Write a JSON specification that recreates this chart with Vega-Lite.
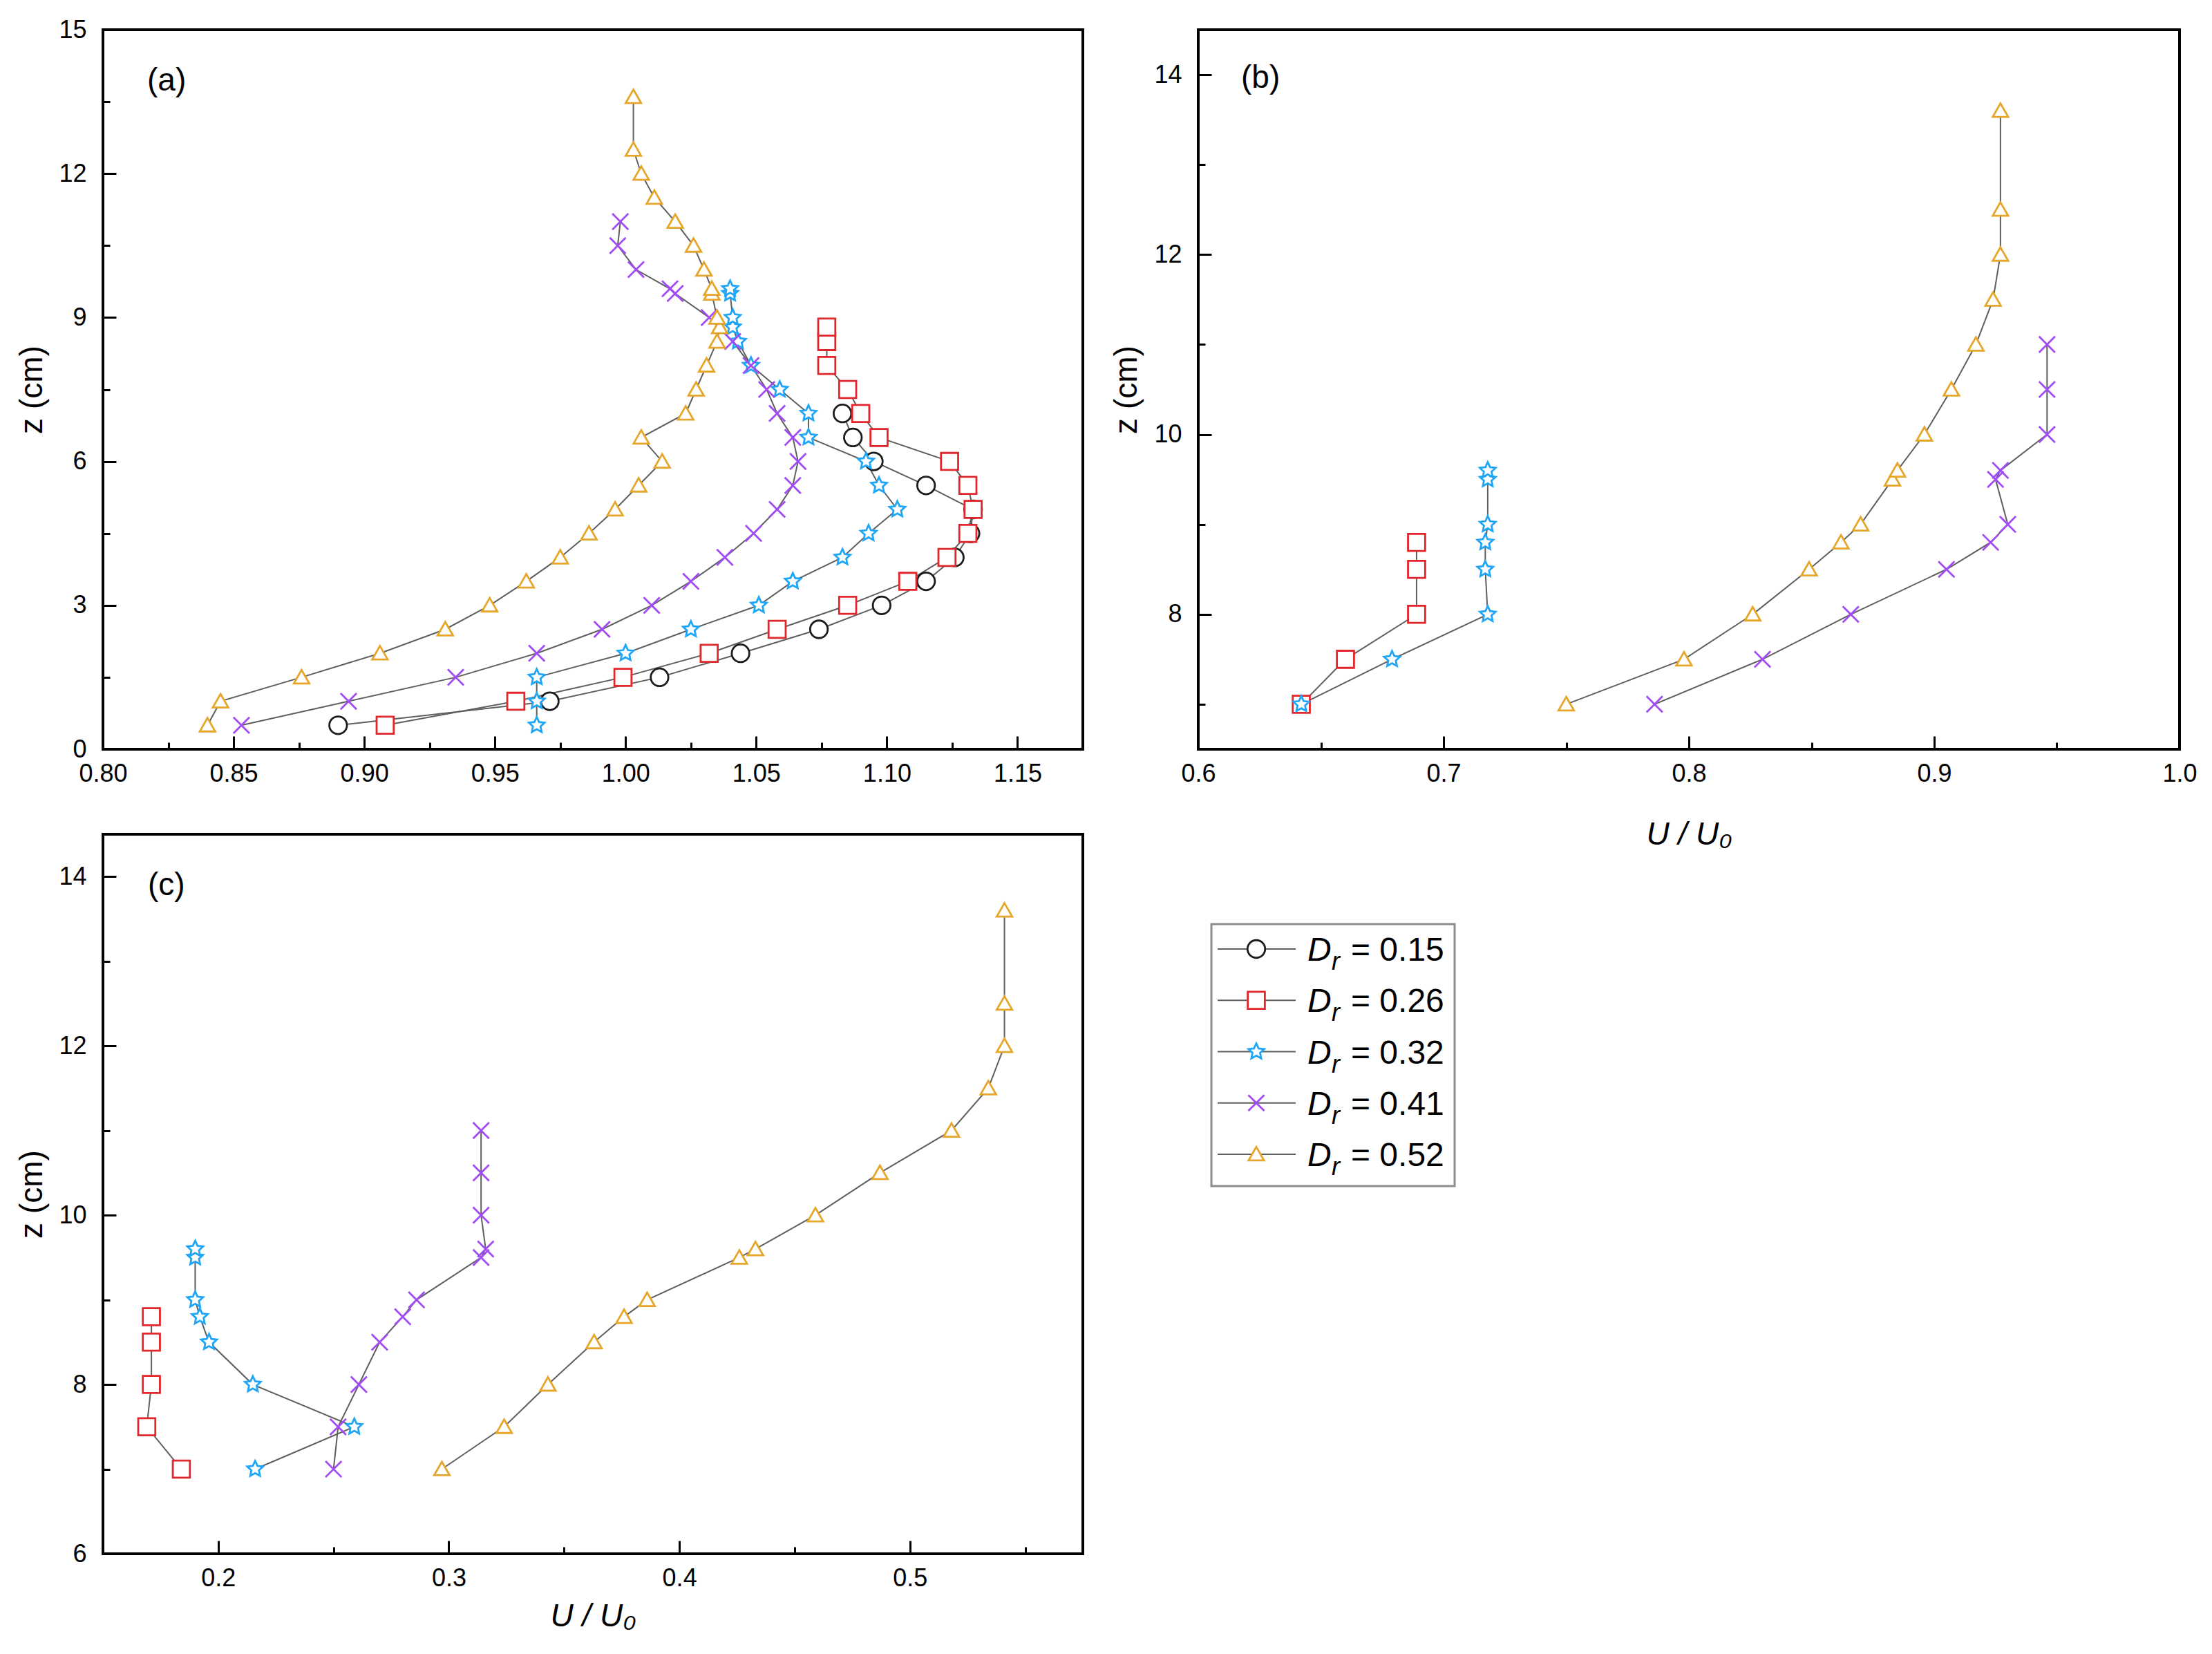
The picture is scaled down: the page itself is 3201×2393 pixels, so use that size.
{
  "$schema": "https://vega.github.io/schema/vega-lite/v6.json",
  "description": "Velocity profiles z vs U/U0 for five Dr values, three panels",
  "autosize": "none",
  "padding": {"left": 149, "top": 43, "right": 3052, "bottom": 2350},
  "background": "white",
  "config": {
    "font": "Liberation Sans",
    "view": {"stroke": "black", "strokeWidth": 4},
    "axis": {
      "domain": false,
      "grid": false,
      "labelFont": "Liberation Sans",
      "labelFontSize": 36,
      "labelColor": "black",
      "labelFlush": false,
      "labelOverlap": false,
      "tickColor": "black",
      "tickWidth": 3,
      "titleFont": "Liberation Sans, DejaVu Sans",
      "titleFontSize": 46,
      "titleFontWeight": "normal",
      "titleColor": "black"
    },
    "title": {
      "font": "Liberation Sans",
      "fontSize": 46,
      "fontWeight": "normal",
      "color": "black",
      "anchor": "start",
      "frame": "group",
      "baseline": "middle",
      "offset": 0
    }
  },
  "datasets": {
    "a": [
      {"Dr": "0.15", "U": 0.890, "z": 0.5},
      {"Dr": "0.15", "U": 0.971, "z": 1.0},
      {"Dr": "0.15", "U": 1.013, "z": 1.5},
      {"Dr": "0.15", "U": 1.044, "z": 2.0},
      {"Dr": "0.15", "U": 1.074, "z": 2.5},
      {"Dr": "0.15", "U": 1.098, "z": 3.0},
      {"Dr": "0.15", "U": 1.115, "z": 3.5},
      {"Dr": "0.15", "U": 1.126, "z": 4.0},
      {"Dr": "0.15", "U": 1.132, "z": 4.5},
      {"Dr": "0.15", "U": 1.133, "z": 5.0},
      {"Dr": "0.15", "U": 1.115, "z": 5.5},
      {"Dr": "0.15", "U": 1.095, "z": 6.0},
      {"Dr": "0.15", "U": 1.087, "z": 6.5},
      {"Dr": "0.15", "U": 1.083, "z": 7.0},
      {"Dr": "0.26", "U": 0.908, "z": 0.5},
      {"Dr": "0.26", "U": 0.958, "z": 1.0},
      {"Dr": "0.26", "U": 0.999, "z": 1.5},
      {"Dr": "0.26", "U": 1.032, "z": 2.0},
      {"Dr": "0.26", "U": 1.058, "z": 2.5},
      {"Dr": "0.26", "U": 1.085, "z": 3.0},
      {"Dr": "0.26", "U": 1.108, "z": 3.5},
      {"Dr": "0.26", "U": 1.123, "z": 4.0},
      {"Dr": "0.26", "U": 1.131, "z": 4.5},
      {"Dr": "0.26", "U": 1.133, "z": 5.0},
      {"Dr": "0.26", "U": 1.131, "z": 5.5},
      {"Dr": "0.26", "U": 1.124, "z": 6.0},
      {"Dr": "0.26", "U": 1.097, "z": 6.5},
      {"Dr": "0.26", "U": 1.090, "z": 7.0},
      {"Dr": "0.26", "U": 1.085, "z": 7.5},
      {"Dr": "0.26", "U": 1.077, "z": 8.0},
      {"Dr": "0.26", "U": 1.077, "z": 8.5},
      {"Dr": "0.26", "U": 1.077, "z": 8.8},
      {"Dr": "0.32", "U": 0.966, "z": 0.5},
      {"Dr": "0.32", "U": 0.966, "z": 1.0},
      {"Dr": "0.32", "U": 0.966, "z": 1.5},
      {"Dr": "0.32", "U": 1.000, "z": 2.0},
      {"Dr": "0.32", "U": 1.025, "z": 2.5},
      {"Dr": "0.32", "U": 1.051, "z": 3.0},
      {"Dr": "0.32", "U": 1.064, "z": 3.5},
      {"Dr": "0.32", "U": 1.083, "z": 4.0},
      {"Dr": "0.32", "U": 1.093, "z": 4.5},
      {"Dr": "0.32", "U": 1.104, "z": 5.0},
      {"Dr": "0.32", "U": 1.097, "z": 5.5},
      {"Dr": "0.32", "U": 1.092, "z": 6.0},
      {"Dr": "0.32", "U": 1.070, "z": 6.5},
      {"Dr": "0.32", "U": 1.070, "z": 7.0},
      {"Dr": "0.32", "U": 1.059, "z": 7.5},
      {"Dr": "0.32", "U": 1.048, "z": 8.0},
      {"Dr": "0.32", "U": 1.043, "z": 8.5},
      {"Dr": "0.32", "U": 1.041, "z": 8.8},
      {"Dr": "0.32", "U": 1.041, "z": 9.0},
      {"Dr": "0.32", "U": 1.040, "z": 9.5},
      {"Dr": "0.32", "U": 1.040, "z": 9.6},
      {"Dr": "0.41", "U": 0.853, "z": 0.5},
      {"Dr": "0.41", "U": 0.894, "z": 1.0},
      {"Dr": "0.41", "U": 0.935, "z": 1.5},
      {"Dr": "0.41", "U": 0.966, "z": 2.0},
      {"Dr": "0.41", "U": 0.991, "z": 2.5},
      {"Dr": "0.41", "U": 1.010, "z": 3.0},
      {"Dr": "0.41", "U": 1.025, "z": 3.5},
      {"Dr": "0.41", "U": 1.038, "z": 4.0},
      {"Dr": "0.41", "U": 1.049, "z": 4.5},
      {"Dr": "0.41", "U": 1.058, "z": 5.0},
      {"Dr": "0.41", "U": 1.064, "z": 5.5},
      {"Dr": "0.41", "U": 1.066, "z": 6.0},
      {"Dr": "0.41", "U": 1.064, "z": 6.5},
      {"Dr": "0.41", "U": 1.058, "z": 7.0},
      {"Dr": "0.41", "U": 1.054, "z": 7.5},
      {"Dr": "0.41", "U": 1.048, "z": 8.0},
      {"Dr": "0.41", "U": 1.041, "z": 8.5},
      {"Dr": "0.41", "U": 1.032, "z": 9.0},
      {"Dr": "0.41", "U": 1.019, "z": 9.5},
      {"Dr": "0.41", "U": 1.017, "z": 9.6},
      {"Dr": "0.41", "U": 1.004, "z": 10.0},
      {"Dr": "0.41", "U": 0.997, "z": 10.5},
      {"Dr": "0.41", "U": 0.998, "z": 11.0},
      {"Dr": "0.52", "U": 0.840, "z": 0.5},
      {"Dr": "0.52", "U": 0.845, "z": 1.0},
      {"Dr": "0.52", "U": 0.876, "z": 1.5},
      {"Dr": "0.52", "U": 0.906, "z": 2.0},
      {"Dr": "0.52", "U": 0.931, "z": 2.5},
      {"Dr": "0.52", "U": 0.948, "z": 3.0},
      {"Dr": "0.52", "U": 0.962, "z": 3.5},
      {"Dr": "0.52", "U": 0.975, "z": 4.0},
      {"Dr": "0.52", "U": 0.986, "z": 4.5},
      {"Dr": "0.52", "U": 0.996, "z": 5.0},
      {"Dr": "0.52", "U": 1.005, "z": 5.5},
      {"Dr": "0.52", "U": 1.014, "z": 6.0},
      {"Dr": "0.52", "U": 1.006, "z": 6.5},
      {"Dr": "0.52", "U": 1.023, "z": 7.0},
      {"Dr": "0.52", "U": 1.027, "z": 7.5},
      {"Dr": "0.52", "U": 1.031, "z": 8.0},
      {"Dr": "0.52", "U": 1.035, "z": 8.5},
      {"Dr": "0.52", "U": 1.036, "z": 8.8},
      {"Dr": "0.52", "U": 1.035, "z": 9.0},
      {"Dr": "0.52", "U": 1.033, "z": 9.5},
      {"Dr": "0.52", "U": 1.033, "z": 9.6},
      {"Dr": "0.52", "U": 1.030, "z": 10.0},
      {"Dr": "0.52", "U": 1.026, "z": 10.5},
      {"Dr": "0.52", "U": 1.019, "z": 11.0},
      {"Dr": "0.52", "U": 1.011, "z": 11.5},
      {"Dr": "0.52", "U": 1.006, "z": 12.0},
      {"Dr": "0.52", "U": 1.003, "z": 12.5},
      {"Dr": "0.52", "U": 1.003, "z": 13.6}
    ],
    "b": [
      {"Dr": "0.26", "U": 0.642, "z": 7.0},
      {"Dr": "0.26", "U": 0.660, "z": 7.5},
      {"Dr": "0.26", "U": 0.689, "z": 8.0},
      {"Dr": "0.26", "U": 0.689, "z": 8.5},
      {"Dr": "0.26", "U": 0.689, "z": 8.8},
      {"Dr": "0.32", "U": 0.642, "z": 7.0},
      {"Dr": "0.32", "U": 0.679, "z": 7.5},
      {"Dr": "0.32", "U": 0.718, "z": 8.0},
      {"Dr": "0.32", "U": 0.717, "z": 8.5},
      {"Dr": "0.32", "U": 0.717, "z": 8.8},
      {"Dr": "0.32", "U": 0.718, "z": 9.0},
      {"Dr": "0.32", "U": 0.718, "z": 9.5},
      {"Dr": "0.32", "U": 0.718, "z": 9.6},
      {"Dr": "0.41", "U": 0.786, "z": 7.0},
      {"Dr": "0.41", "U": 0.830, "z": 7.5},
      {"Dr": "0.41", "U": 0.866, "z": 8.0},
      {"Dr": "0.41", "U": 0.905, "z": 8.5},
      {"Dr": "0.41", "U": 0.923, "z": 8.8},
      {"Dr": "0.41", "U": 0.930, "z": 9.0},
      {"Dr": "0.41", "U": 0.925, "z": 9.5},
      {"Dr": "0.41", "U": 0.927, "z": 9.6},
      {"Dr": "0.41", "U": 0.946, "z": 10.0},
      {"Dr": "0.41", "U": 0.946, "z": 10.5},
      {"Dr": "0.41", "U": 0.946, "z": 11.0},
      {"Dr": "0.52", "U": 0.750, "z": 7.0},
      {"Dr": "0.52", "U": 0.798, "z": 7.5},
      {"Dr": "0.52", "U": 0.826, "z": 8.0},
      {"Dr": "0.52", "U": 0.849, "z": 8.5},
      {"Dr": "0.52", "U": 0.862, "z": 8.8},
      {"Dr": "0.52", "U": 0.870, "z": 9.0},
      {"Dr": "0.52", "U": 0.883, "z": 9.5},
      {"Dr": "0.52", "U": 0.885, "z": 9.6},
      {"Dr": "0.52", "U": 0.896, "z": 10.0},
      {"Dr": "0.52", "U": 0.907, "z": 10.5},
      {"Dr": "0.52", "U": 0.917, "z": 11.0},
      {"Dr": "0.52", "U": 0.924, "z": 11.5},
      {"Dr": "0.52", "U": 0.927, "z": 12.0},
      {"Dr": "0.52", "U": 0.927, "z": 12.5},
      {"Dr": "0.52", "U": 0.927, "z": 13.6}
    ],
    "c": [
      {"Dr": "0.26", "U": 0.184, "z": 7.0},
      {"Dr": "0.26", "U": 0.169, "z": 7.5},
      {"Dr": "0.26", "U": 0.171, "z": 8.0},
      {"Dr": "0.26", "U": 0.171, "z": 8.5},
      {"Dr": "0.26", "U": 0.171, "z": 8.8},
      {"Dr": "0.32", "U": 0.216, "z": 7.0},
      {"Dr": "0.32", "U": 0.259, "z": 7.5},
      {"Dr": "0.32", "U": 0.215, "z": 8.0},
      {"Dr": "0.32", "U": 0.196, "z": 8.5},
      {"Dr": "0.32", "U": 0.192, "z": 8.8},
      {"Dr": "0.32", "U": 0.190, "z": 9.0},
      {"Dr": "0.32", "U": 0.190, "z": 9.5},
      {"Dr": "0.32", "U": 0.190, "z": 9.6},
      {"Dr": "0.41", "U": 0.250, "z": 7.0},
      {"Dr": "0.41", "U": 0.252, "z": 7.5},
      {"Dr": "0.41", "U": 0.261, "z": 8.0},
      {"Dr": "0.41", "U": 0.270, "z": 8.5},
      {"Dr": "0.41", "U": 0.280, "z": 8.8},
      {"Dr": "0.41", "U": 0.286, "z": 9.0},
      {"Dr": "0.41", "U": 0.314, "z": 9.5},
      {"Dr": "0.41", "U": 0.316, "z": 9.6},
      {"Dr": "0.41", "U": 0.314, "z": 10.0},
      {"Dr": "0.41", "U": 0.314, "z": 10.5},
      {"Dr": "0.41", "U": 0.314, "z": 11.0},
      {"Dr": "0.52", "U": 0.297, "z": 7.0},
      {"Dr": "0.52", "U": 0.324, "z": 7.5},
      {"Dr": "0.52", "U": 0.343, "z": 8.0},
      {"Dr": "0.52", "U": 0.363, "z": 8.5},
      {"Dr": "0.52", "U": 0.376, "z": 8.8},
      {"Dr": "0.52", "U": 0.386, "z": 9.0},
      {"Dr": "0.52", "U": 0.426, "z": 9.5},
      {"Dr": "0.52", "U": 0.433, "z": 9.6},
      {"Dr": "0.52", "U": 0.459, "z": 10.0},
      {"Dr": "0.52", "U": 0.487, "z": 10.5},
      {"Dr": "0.52", "U": 0.518, "z": 11.0},
      {"Dr": "0.52", "U": 0.534, "z": 11.5},
      {"Dr": "0.52", "U": 0.541, "z": 12.0},
      {"Dr": "0.52", "U": 0.541, "z": 12.5},
      {"Dr": "0.52", "U": 0.541, "z": 13.6}
    ],
    "legend": [
      {"Dr": "0.15", "label": "= 0.15"},
      {"Dr": "0.26", "label": "= 0.26"},
      {"Dr": "0.32", "label": "= 0.32"},
      {"Dr": "0.41", "label": "= 0.41"},
      {"Dr": "0.52", "label": "= 0.52"}
    ]
  },
  "bounds": "flush",
  "columns": 2,
  "spacing": {"row": 123, "column": 167},
  "concat": [
    {
      "width": 1418,
      "height": 1041,
      "data": {"name": "a"},
      "title": {"text": "(a)", "dx": 64, "dy": 120},
      "resolve": {"axis": {"x": "independent", "y": "independent"}},
      "layer": [
        {
          "mark": {"type": "line", "color": "#5f5f5f", "strokeWidth": 2},
          "encoding": {
            "x": {"field": "U", "type": "quantitative", "scale": {"domain": [0.8, 1.175], "nice": false, "zero": false},
              "axis": {"orient": "bottom", "values": [0.8, 0.85, 0.9, 0.95, 1.0, 1.05, 1.1, 1.15], "format": ".2f", "tickSize": -19, "labelPadding": 37, "title": null}},
            "y": {"field": "z", "type": "quantitative", "scale": {"domain": [0, 15], "nice": false, "zero": false},
              "axis": {"orient": "left", "values": [0, 3, 6, 9, 12, 15], "format": "d", "tickSize": -19, "labelPadding": 43, "title": "z (cm)", "titleX": -103, "titleBaseline": "middle"}},
            "detail": {"field": "Dr"},
            "order": {"field": "z", "type": "quantitative"}
          }
        },
        {
          "mark": {"type": "point", "filled": false, "fill": "white", "opacity": 1, "strokeWidth": 2.8},
          "encoding": {
            "x": {"field": "U", "type": "quantitative",
              "axis": {"orient": "bottom", "values": [0.825, 0.875, 0.925, 0.975, 1.025, 1.075, 1.125], "labels": false, "tickSize": -10, "title": null}},
            "y": {"field": "z", "type": "quantitative",
              "axis": {"orient": "left", "values": [1.5, 4.5, 7.5, 10.5, 13.5], "labels": false, "tickSize": -10, "title": null}},
            "shape": {"field": "Dr", "type": "nominal", "legend": null,
              "scale": {"domain": ["0.15", "0.26", "0.32", "0.41", "0.52"], "range": ["circle", "square", "M0,-1L0.282,-0.388L0.951,-0.309L0.457,0.148L0.588,0.809L0,0.48L-0.588,0.809L-0.457,0.148L-0.951,-0.309L-0.282,-0.388Z", "M-1,-1L1,1M1,-1L-1,1", "M0,-0.95L1,0.8L-1,0.8Z"]}},
            "stroke": {"field": "Dr", "type": "nominal", "legend": null,
              "scale": {"domain": ["0.15", "0.26", "0.32", "0.41", "0.52"], "range": ["#1c1c1c", "#e3262c", "#1fa6f7", "#a24cf6", "#e6a62a"]}},
            "size": {"field": "Dr", "type": "nominal", "legend": null,
              "scale": {"domain": ["0.15", "0.26", "0.32", "0.41", "0.52"], "range": [650, 500, 900, 800, 700]}}
          }
        }
      ]
    },
    {
      "width": 1420,
      "height": 1041,
      "data": {"name": "b"},
      "title": {"text": "(b)", "dx": 62, "dy": 98},
      "resolve": {"axis": {"x": "independent", "y": "independent"}},
      "layer": [
        {
          "mark": {"type": "line", "color": "#5f5f5f", "strokeWidth": 2},
          "encoding": {
            "x": {"field": "U", "type": "quantitative", "scale": {"domain": [0.6, 1.0], "nice": false, "zero": false},
              "axis": {"orient": "bottom", "values": [0.6, 0.7, 0.8, 0.9, 1.0], "format": ".1f", "tickSize": -19, "labelPadding": 37, "title": "U / U₀", "titleFontStyle": "italic", "titleY": 123, "titleBaseline": "middle"}},
            "y": {"field": "z", "type": "quantitative", "scale": {"domain": [6.5, 14.5], "nice": false, "zero": false},
              "axis": {"orient": "left", "values": [8, 10, 12, 14], "format": "d", "tickSize": -19, "labelPadding": 43, "title": "z (cm)", "titleX": -104, "titleBaseline": "middle"}},
            "detail": {"field": "Dr"},
            "order": {"field": "z", "type": "quantitative"}
          }
        },
        {
          "mark": {"type": "point", "filled": false, "fill": "white", "opacity": 1, "strokeWidth": 2.8},
          "encoding": {
            "x": {"field": "U", "type": "quantitative",
              "axis": {"orient": "bottom", "values": [0.65, 0.75, 0.85, 0.95], "labels": false, "tickSize": -10, "title": null}},
            "y": {"field": "z", "type": "quantitative",
              "axis": {"orient": "left", "values": [7, 9, 11, 13], "labels": false, "tickSize": -10, "title": null}},
            "shape": {"field": "Dr", "type": "nominal", "legend": null},
            "stroke": {"field": "Dr", "type": "nominal", "legend": null},
            "size": {"field": "Dr", "type": "nominal", "legend": null}
          }
        }
      ]
    },
    {
      "width": 1418,
      "height": 1041,
      "data": {"name": "c"},
      "title": {"text": "(c)", "dx": 65, "dy": 102},
      "resolve": {"axis": {"x": "independent", "y": "independent"}},
      "layer": [
        {
          "mark": {"type": "line", "color": "#5f5f5f", "strokeWidth": 2},
          "encoding": {
            "x": {"field": "U", "type": "quantitative", "scale": {"domain": [0.15, 0.575], "nice": false, "zero": false},
              "axis": {"orient": "bottom", "values": [0.2, 0.3, 0.4, 0.5], "format": ".1f", "tickSize": -19, "labelPadding": 37, "title": "U / U₀", "titleFontStyle": "italic", "titleY": 90, "titleBaseline": "middle"}},
            "y": {"field": "z", "type": "quantitative", "scale": {"domain": [6, 14.5], "nice": false, "zero": false},
              "axis": {"orient": "left", "values": [6, 8, 10, 12, 14], "format": "d", "tickSize": -19, "labelPadding": 43, "title": "z (cm)", "titleX": -103, "titleBaseline": "middle"}},
            "detail": {"field": "Dr"},
            "order": {"field": "z", "type": "quantitative"}
          }
        },
        {
          "mark": {"type": "point", "filled": false, "fill": "white", "opacity": 1, "strokeWidth": 2.8},
          "encoding": {
            "x": {"field": "U", "type": "quantitative",
              "axis": {"orient": "bottom", "values": [0.25, 0.35, 0.45, 0.55], "labels": false, "tickSize": -10, "title": null}},
            "y": {"field": "z", "type": "quantitative",
              "axis": {"orient": "left", "values": [7, 9, 11, 13], "labels": false, "tickSize": -10, "title": null}},
            "shape": {"field": "Dr", "type": "nominal", "legend": null},
            "stroke": {"field": "Dr", "type": "nominal", "legend": null},
            "size": {"field": "Dr", "type": "nominal", "legend": null}
          }
        }
      ]
    },
    {
      "width": 371,
      "height": 509,
      "view": {"stroke": null},
      "layer": [
        {
          "data": {"values": [{"box": "legend"}]},
          "mark": {"type": "rect", "fill": "white", "stroke": "#8c8c8c", "strokeWidth": 3},
          "encoding": {"x": {"value": 19}, "x2": {"value": 371}, "y": {"value": 130}, "y2": {"value": 509}}
        },
        {
          "data": {"name": "legend"},
          "encoding": {
            "y": {"field": "Dr", "type": "nominal", "axis": null,
              "scale": {"type": "point", "padding": 0, "range": [166, 463], "domain": ["0.15", "0.26", "0.32", "0.41", "0.52"]}}
          },
          "layer": [
            {
              "mark": {"type": "rule", "color": "#5f5f5f", "strokeWidth": 2},
              "encoding": {"x": {"value": 28}, "x2": {"value": 141}}
            },
            {
              "mark": {"type": "point", "filled": false, "fill": "white", "opacity": 1, "strokeWidth": 2.8},
              "encoding": {
                "x": {"value": 84},
                "shape": {"field": "Dr", "type": "nominal", "legend": null},
                "stroke": {"field": "Dr", "type": "nominal", "legend": null},
                "size": {"field": "Dr", "type": "nominal", "legend": null}
              }
            },
            {
              "mark": {"type": "text", "align": "left", "baseline": "alphabetic", "dy": 17, "fontSize": 48, "fontStyle": "italic", "color": "black", "font": "Liberation Sans"},
              "encoding": {"x": {"value": 158}, "text": {"value": "D"}}
            },
            {
              "mark": {"type": "text", "align": "left", "baseline": "alphabetic", "dy": 30, "fontSize": 36, "fontStyle": "italic", "color": "black", "font": "Liberation Sans"},
              "encoding": {"x": {"value": 193}, "text": {"value": "r"}}
            },
            {
              "mark": {"type": "text", "align": "left", "baseline": "alphabetic", "dy": 17, "fontSize": 48, "color": "black", "font": "Liberation Sans"},
              "encoding": {"x": {"value": 221}, "text": {"field": "label"}}
            }
          ]
        }
      ]
    }
  ]
}
